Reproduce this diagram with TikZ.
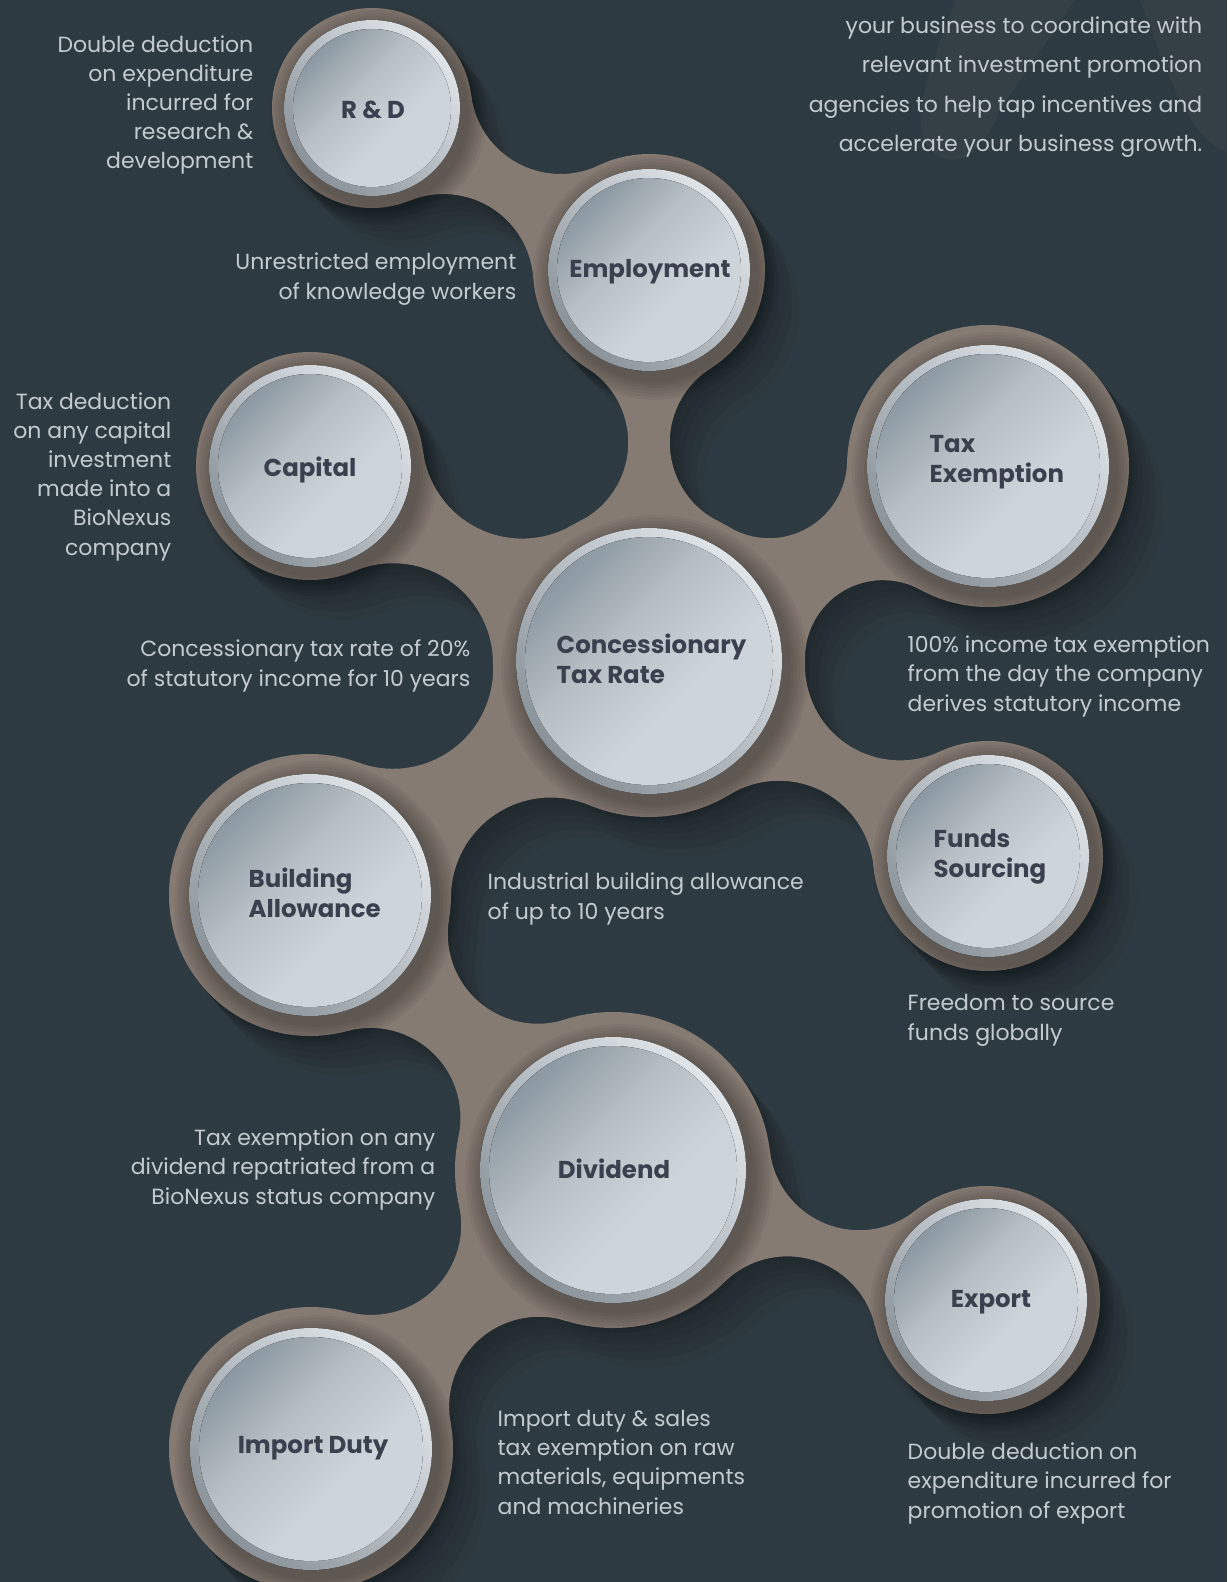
\documentclass[tikz,border=0pt]{standalone}
\usepackage{fontspec}
\setmainfont{Poppins}
\definecolor{bg}{HTML}{2E3A41}
\definecolor{brownbase}{HTML}{867B72}
\definecolor{rimlight}{HTML}{E0E5E9}
\definecolor{rimdark}{HTML}{8A939A}
\definecolor{face1}{HTML}{8C99A2}
\definecolor{face2}{HTML}{B7BEC4}
\definecolor{face3}{HTML}{CDD4DA}
\definecolor{desctext}{HTML}{C3CBD1}
\definecolor{lbltext}{HTML}{3B3F4E}
\pgfdeclarehorizontalshading{facesh}{100bp}{color(0bp)=(face1); color(25bp)=(face1); color(42bp)=(face2); color(60bp)=(face3); color(100bp)=(face3)}
\newcommand\defneck[8]{%
  \pgfmathsetmacro\nkXa{(#2)/100}%
  \pgfmathsetmacro\nkYa{(#3)/100}%
  \pgfmathsetmacro\nkXb{(#5)/100}%
  \pgfmathsetmacro\nkYb{(#6)/100}%
  \pgfmathsetmacro\nkRa{(#4)/100}%
  \pgfmathsetmacro\nkRb{(#7)/100}%
  \pgfmathsetmacro\nkR{(#8)/100}%
  \pgfmathsetmacro\nkDx{(\nkXb)-(\nkXa)}%
  \pgfmathsetmacro\nkDy{(\nkYb)-(\nkYa)}%
  \pgfmathsetmacro\nkD{sqrt((\nkDx)*(\nkDx)+(\nkDy)*(\nkDy))}%
  \pgfmathsetmacro\nkUx{(\nkDx)/(\nkD)}%
  \pgfmathsetmacro\nkUy{(\nkDy)/(\nkD)}%
  \pgfmathsetmacro\nkA{(\nkRa)+(\nkR)}%
  \pgfmathsetmacro\nkB{(\nkRb)+(\nkR)}%
  \pgfmathsetmacro\nkP{((\nkA)*(\nkA)-(\nkB)*(\nkB)+(\nkD)*(\nkD))/(2*(\nkD))}%
  \pgfmathsetmacro\nkH{sqrt((\nkA)*(\nkA)-(\nkP)*(\nkP))}%
  \pgfmathsetmacro\nkFax{(\nkXa)+(\nkP)*(\nkUx)-(\nkH)*(\nkUy)}%
  \pgfmathsetmacro\nkFay{(\nkYa)+(\nkP)*(\nkUy)+(\nkH)*(\nkUx)}%
  \pgfmathsetmacro\nkFbx{(\nkXa)+(\nkP)*(\nkUx)+(\nkH)*(\nkUy)}%
  \pgfmathsetmacro\nkFby{(\nkYa)+(\nkP)*(\nkUy)-(\nkH)*(\nkUx)}%
  \pgfmathsetmacro\nkSa{(\nkRa)/(\nkA)}%
  \pgfmathsetmacro\nkSb{(\nkRb)/(\nkB)}%
  \pgfmathsetmacro\nkTax{(\nkXa)+(\nkSa)*((\nkFax)-(\nkXa))}%
  \pgfmathsetmacro\nkTay{(\nkYa)+(\nkSa)*((\nkFay)-(\nkYa))}%
  \pgfmathsetmacro\nkUax{(\nkXb)+(\nkSb)*((\nkFax)-(\nkXb))}%
  \pgfmathsetmacro\nkUay{(\nkYb)+(\nkSb)*((\nkFay)-(\nkYb))}%
  \pgfmathsetmacro\nkTbx{(\nkXa)+(\nkSa)*((\nkFbx)-(\nkXa))}%
  \pgfmathsetmacro\nkTby{(\nkYa)+(\nkSa)*((\nkFby)-(\nkYa))}%
  \pgfmathsetmacro\nkUbx{(\nkXb)+(\nkSb)*((\nkFbx)-(\nkXb))}%
  \pgfmathsetmacro\nkUby{(\nkYb)+(\nkSb)*((\nkFby)-(\nkYb))}%
  \pgfmathsetmacro\nkAs{atan2((\nkTay)-(\nkFay),(\nkTax)-(\nkFax))}%
  \pgfmathsetmacro\nkAe{atan2((\nkUay)-(\nkFay),(\nkUax)-(\nkFax))}%
  \pgfmathsetmacro\nkAe{(\nkAe)-360*(((\nkAe)-(\nkAs))>180)+360*(((\nkAe)-(\nkAs))<-180)}%
  \pgfmathsetmacro\nkBs{atan2((\nkUby)-(\nkFby),(\nkUbx)-(\nkFbx))}%
  \pgfmathsetmacro\nkBe{atan2((\nkTby)-(\nkFby),(\nkTbx)-(\nkFbx))}%
  \pgfmathsetmacro\nkBe{(\nkBe)-360*(((\nkBe)-(\nkBs))>180)+360*(((\nkBe)-(\nkBs))<-180)}%
  \pgfmathsetmacro\nkTax{100*(\nkTax)}\pgfmathsetmacro\nkTay{100*(\nkTay)}%
  \pgfmathsetmacro\nkUbx{100*(\nkUbx)}\pgfmathsetmacro\nkUby{100*(\nkUby)}%
  \edef\nkTmp{\noexpand\tikzset{#1/.style={insert path={(\nkTax,\nkTay) arc[start angle=\nkAs,end angle=\nkAe,radius=#8] -- (#5,#6) -- (\nkUbx,\nkUby) arc[start angle=\nkBs,end angle=\nkBe,radius=#8] -- (#2,#3) -- cycle}}}}%
  \nkTmp}
\defneck{nkRE}{372}{108}{100}{649}{270}{116}{90}
\defneck{nkEC}{649}{270}{116}{649}{661}{156}{88}
\defneck{nkCC}{310}{466}{114}{649}{661}{156}{100}
\defneck{nkTC}{988}{466}{141}{649}{661}{156}{78}
\defneck{nkCF}{649}{661}{156}{988}{856}{115}{95}
\defneck{nkCB}{649}{661}{156}{310}{895}{141}{100}
\defneck{nkBD}{310}{895}{141}{613}{1170}{158}{90}
\defneck{nkDE}{613}{1170}{158}{986}{1300}{114}{90}
\defneck{nkDI}{613}{1170}{158}{311}{1449}{142}{90}
\newcommand\blobpieces[1]{%
  \foreach \nk in {nkRE,nkEC,nkCC,nkTC,nkCF,nkCB,nkBD,nkDE,nkDI}{\fill[#1,\nk];}
  \foreach \cx/\cy/\cr in {372/108/100,649/270/116,310/466/114,988/466/141,649/661/156,988/856/115,310/895/141,613/1170/158,986/1300/114,311/1449/142}{\fill[#1] (\cx,\cy) circle[radius=\cr];}}
\tikzset{
  desc/.style={text=desctext, font=\fontsize{6.25}{8.28}\selectfont, inner sep=0pt},
  descR/.style={desc, align=right, anchor=base east},
  descL/.style={desc, align=left, anchor=base west},
  lbl/.style={text=lbltext, font=\fontsize{6.95}{8.25}\selectfont\bfseries, inner sep=0pt},
  lblC/.style={lbl, anchor=base},
  lblL/.style={lbl, align=left, anchor=base west},
}
\begin{document}
\begin{tikzpicture}[x=0.01cm,y=-0.01cm]
\useasboundingbox (0,0) rectangle (1227,1582);
\fill[bg] (0,0) rectangle (1227,1582);
% faint watermark letter, top right
\fill[white, opacity=0.03] (955,0) .. controls (935,60) and (905,120) .. (930,150) .. controls (955,175) and (985,150) .. (1000,110) -- (1075,0) -- cycle;
\fill[white, opacity=0.03] (1140,0) .. controls (1170,80) and (1190,140) .. (1227,152) -- (1227,0) -- cycle;
% soft drop shadow
\begin{scope}[shift={(34,40)}]\blobpieces{bg!95!black}\end{scope}
\begin{scope}[shift={(27,32)}]\blobpieces{bg!90!black}\end{scope}
\begin{scope}[shift={(20,24)}]\blobpieces{bg!85!black}\end{scope}
\begin{scope}[shift={(14,17)}]\blobpieces{bg!80!black}\end{scope}
\begin{scope}[shift={(9,11)}]\blobpieces{bg!76!black}\end{scope}
\begin{scope}[shift={(4,5)}]\blobpieces{bg!72!black}\end{scope}
% brown blob
\blobpieces{brownbase}
% soft shadows of the buttons on the blob
\foreach \cx/\cy/\cr in {372/108/88,649/270/101,310/466/101,988/466/121,649/661/133,988/856/101,310/895/121,613/1170/133,986/1300/101,311/1449/121}{
  \foreach \k in {3,6,...,21}{\fill[black, opacity=0.045] (\cx+6,\cy+8) circle[radius=\cr+\k];}}
% silver buttons
\foreach \cx/\cy/\cr in {372/108/88,649/270/101,310/466/101,988/466/121,649/661/133,988/856/101,310/895/121,613/1170/133,986/1300/101,311/1449/121}{
  \fill[left color=rimlight, right color=rimdark, shading angle=-45] (\cx,\cy) circle[radius=\cr];
  \fill[shading=facesh, shading angle=-45] (\cx,\cy) circle[radius=\cr-9];}
% labels
\node[lblC] (lrd) at (373,119) {R \& D};
\node[lblC] (lemp) at (650,277) {Employment};
\node[lblC] (lcap) at (310,476) {Capital};
\node[lblL] (ltax) at (929,482) {Tax\\Exemption};
\node[lblL] (lcon) at (556,683) {Concessionary\\Tax Rate};
\node[lblL] (lfun) at (933,877) {Funds\\Sourcing};
\node[lblL] (lbld) at (248,917) {Building\\Allowance};
\node[lblC] (ldiv) at (614,1178) {Dividend};
\node[lblC] (lexp) at (991,1307) {Export};
\node[lblC] (limp) at (313,1453) {Import Duty};
% descriptions
\node[descR, font=\fontsize{6.25}{11.27}\selectfont] (dtop) at (1203,152) {your business to coordinate with\\relevant investment promotion\\agencies to help tap incentives and\\accelerate your business growth.};
\node[descR] (drd) at (254,169) {Double deduction\\on expenditure\\incurred for\\research \&\\development};
\node[descR] (demp) at (517,299) {Unrestricted employment\\of knowledge workers};
\node[descR] (dcap) at (172,555) {Tax deduction\\on any capital\\investment\\made into a\\BioNexus\\company};
\node[descR] (dcon) at (471,686) {Concessionary tax rate of 20\%\\of statutory income for 10 years};
\node[descL] (dtax) at (907,711) {100\% income tax exemption\\from the day the company\\derives statutory income};
\node[descL] (dbld) at (487,919) {Industrial building allowance\\of up to 10 years};
\node[descL] (dfun) at (907,1040) {Freedom to source\\funds globally};
\node[descR] (ddiv) at (436,1204) {Tax exemption on any\\dividend repatriated from a\\BioNexus status company};
\node[descL] (dimp) at (497,1514) {Import duty \& sales\\tax exemption on raw\\materials, equipments\\and machineries};
\node[descL] (dexp) at (907,1518) {Double deduction on\\expenditure incurred for\\promotion of export};
\end{tikzpicture}
\end{document}
